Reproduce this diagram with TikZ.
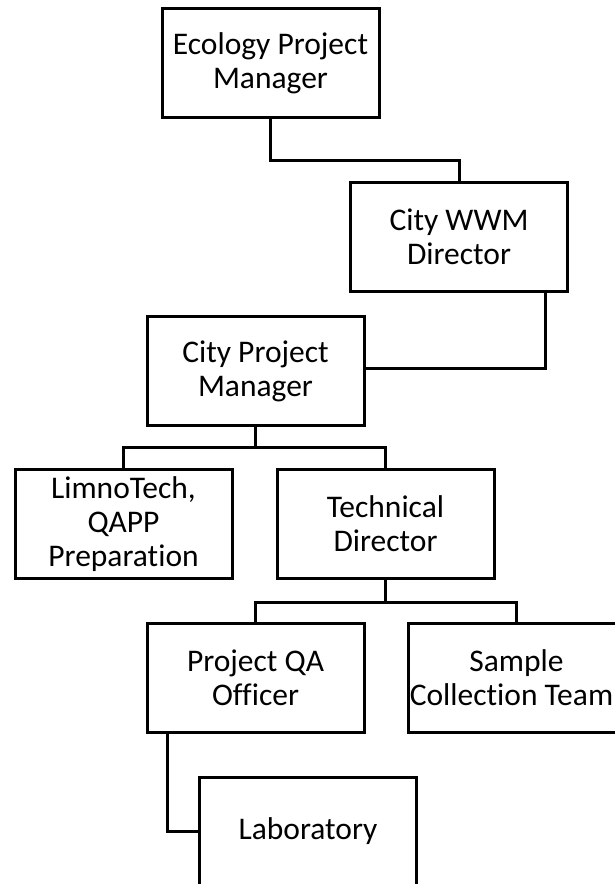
\documentclass[tikz,border=0pt]{standalone}
\usepackage{fontspec}
\setmainfont[Ligatures=CommonOff]{Carlito}
\begin{document}
\begin{tikzpicture}[x=1pt,y=-1pt,
  box/.style={draw=black,line width=3pt,fill=white,rectangle,minimum width=217pt,minimum height=109pt,inner sep=0pt,align=center,font=\fontsize{31.5}{34}\selectfont},
  conn/.style={draw=black,line width=3pt}]
\useasboundingbox (0,0) rectangle (614,884);
\node[box] (eco) at (270.5,63) {Ecology Project\\Manager};
\node[box] (wwm) at (459,236.5) {City WWM\\Director};
\node[box] (cpm) at (255.5,371) {City Project\\Manager};
\node[box] (limno) at (123.5,524) {LimnoTech,\\QAPP\\Preparation};
\node[box] (tech) at (385.5,524) {Technical\\Director};
\node[box] (qa) at (255.5,677.5) {Project QA\\Officer};
\node[box] (sample) at (516.5,677.5) {Sample\\Collection Team\hspace*{10pt}};
\node[box] (lab) at (308,831.5) {Laboratory};
\coordinate (bar0) at (270.5,160);
\coordinate (bar1) at (255.5,447);
\coordinate (bar2) at (385.5,602);
\draw[conn] (eco.south) -- (bar0) -| (wwm.north);
\draw[conn] ([xshift=-24pt]wwm.south east) |- ([yshift=3pt]cpm.east);
\draw[conn] (cpm.south) -- (bar1);
\draw[conn] (limno.north) |- (bar1) -| (tech.north);
\draw[conn] (tech.south) -- (bar2);
\draw[conn] (qa.north) |- (bar2) -| (sample.north);
\draw[conn] ([xshift=22pt]qa.south west) |- (lab.west);
\end{tikzpicture}
\end{document}
